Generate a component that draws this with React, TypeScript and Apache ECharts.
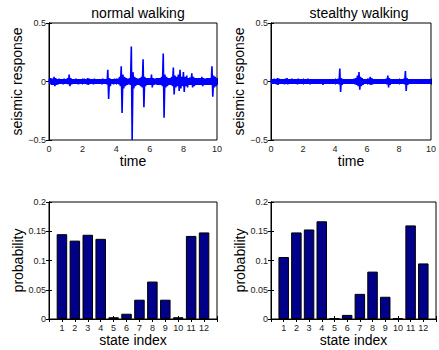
import React, { useEffect, useRef } from "react";
import * as echarts from "echarts";

// envelope of the seismic traces, sampled every 0.1 s (t = 0 .. 10)
const normalUpper = [
  0.02, 0.03, 0.025, 0.04, 0.03, 0.02, 0.025, 0.02, 0.02, 0.025,
  0.02, 0.03, 0.06, 0.03, 0.02, 0.02, 0.025, 0.02, 0.02, 0.02,
  0.02, 0.025, 0.02, 0.03, 0.025, 0.02, 0.02, 0.025, 0.02, 0.02,
  0.02, 0.02, 0.025, 0.02, 0.02, 0.1, 0.03, 0.02, 0.02, 0.025,
  0.02, 0.025, 0.04, 0.13, 0.06, 0.04, 0.03, 0.025, 0.03, 0.3,
  0.08, 0.04, 0.03, 0.025, 0.03, 0.04, 0.19, 0.04, 0.03, 0.03,
  0.03, 0.06, 0.03, 0.025, 0.03, 0.03, 0.03, 0.04, 0.24, 0.06,
  0.04, 0.03, 0.03, 0.04, 0.12, 0.05, 0.04, 0.06, 0.1, 0.04,
  0.08, 0.04, 0.05, 0.03, 0.035, 0.07, 0.04, 0.03, 0.03, 0.03,
  0.03, 0.04, 0.03, 0.025, 0.03, 0.03, 0.03, 0.13, 0.05, 0.04,
  0.03,
];
const normalLower = [
  -0.02, -0.03, -0.03, -0.04, -0.03, -0.025, -0.02, -0.02, -0.025, -0.02,
  -0.02, -0.025, -0.04, -0.025, -0.02, -0.02, -0.02, -0.025, -0.02, -0.02,
  -0.02, -0.02, -0.025, -0.03, -0.02, -0.02, -0.025, -0.02, -0.02, -0.02,
  -0.02, -0.025, -0.02, -0.02, -0.025, -0.15, -0.04, -0.02, -0.025, -0.02,
  -0.02, -0.025, -0.04, -0.27, -0.06, -0.04, -0.03, -0.025, -0.03, -0.5,
  -0.06, -0.04, -0.03, -0.03, -0.04, -0.05, -0.22, -0.04, -0.03, -0.03,
  -0.03, -0.05, -0.03, -0.025, -0.03, -0.03, -0.03, -0.04, -0.31, -0.05,
  -0.04, -0.03, -0.03, -0.04, -0.11, -0.05, -0.04, -0.08, -0.06, -0.04,
  -0.09, -0.04, -0.05, -0.03, -0.03, -0.05, -0.04, -0.03, -0.03, -0.03,
  -0.03, -0.04, -0.03, -0.03, -0.03, -0.03, -0.03, -0.13, -0.05, -0.04,
  -0.03,
];
const stealthyUpper = [
  0.02, 0.02, 0.025, 0.02, 0.03, 0.025, 0.02, 0.02, 0.02, 0.025,
  0.03, 0.02, 0.02, 0.025, 0.02, 0.02, 0.02, 0.025, 0.02, 0.02,
  0.02, 0.02, 0.02, 0.025, 0.02, 0.02, 0.02, 0.02, 0.02, 0.02,
  0.02, 0.02, 0.02, 0.02, 0.02, 0.02, 0.02, 0.02, 0.02, 0.02,
  0.02, 0.02, 0.025, 0.11, 0.03, 0.02, 0.02, 0.02, 0.02, 0.02,
  0.02, 0.02, 0.025, 0.03, 0.05, 0.08, 0.04, 0.03, 0.02, 0.02,
  0.02, 0.025, 0.04, 0.03, 0.02, 0.02, 0.02, 0.02, 0.02, 0.02,
  0.02, 0.02, 0.025, 0.05, 0.03, 0.02, 0.02, 0.02, 0.02, 0.02,
  0.02, 0.02, 0.02, 0.025, 0.09, 0.03, 0.02, 0.02, 0.02, 0.02,
  0.02, 0.02, 0.02, 0.02, 0.02, 0.02, 0.02, 0.02, 0.02, 0.02,
  0.02,
];
const stealthyLower = [
  -0.02, -0.02, -0.02, -0.025, -0.03, -0.02, -0.02, -0.02, -0.025, -0.02,
  -0.025, -0.02, -0.02, -0.02, -0.02, -0.02, -0.025, -0.02, -0.02, -0.02,
  -0.02, -0.02, -0.02, -0.02, -0.025, -0.02, -0.02, -0.02, -0.02, -0.02,
  -0.02, -0.02, -0.03, -0.02, -0.02, -0.02, -0.02, -0.02, -0.02, -0.02,
  -0.02, -0.02, -0.025, -0.09, -0.03, -0.02, -0.02, -0.02, -0.02, -0.02,
  -0.02, -0.02, -0.025, -0.03, -0.04, -0.07, -0.04, -0.03, -0.02, -0.02,
  -0.02, -0.025, -0.03, -0.025, -0.02, -0.02, -0.02, -0.02, -0.02, -0.02,
  -0.02, -0.02, -0.025, -0.05, -0.03, -0.02, -0.02, -0.02, -0.02, -0.02,
  -0.02, -0.02, -0.02, -0.025, -0.08, -0.03, -0.02, -0.02, -0.02, -0.02,
  -0.02, -0.02, -0.02, -0.02, -0.02, -0.02, -0.02, -0.02, -0.02, -0.02,
  -0.02,
];

const stateIndex = [1, 2, 3, 4, 5, 6, 7, 8, 9, 10, 11, 12];
const normalProb = [0.145, 0.134, 0.144, 0.137, 0.003, 0.009, 0.033, 0.064, 0.033, 0.003, 0.142, 0.148];
const stealthyProb = [0.106, 0.148, 0.153, 0.167, 0.001, 0.007, 0.043, 0.081, 0.038, 0.001, 0.16, 0.095];

const titles = ["normal walking", "stealthy walking"];
const FONT = "Liberation Sans, Arial, sans-serif";

function zigzag(up: number[], lo: number[]) {
  const pts: number[][] = [];
  for (let i = 0; i < up.length; i++) {
    const t = i * 0.1;
    pts.push([t, up[i]]);
    if (t + 0.05 <= 10) pts.push([t + 0.05, lo[i]]);
  }
  return pts;
}

const fmt = (v: number) => (v < 0 ? "\u2212" + String(-v) : String(v));

export default function App() {
  const ref = useRef<HTMLDivElement>(null);
  useEffect(() => {
    const chart = echarts.init(ref.current!, null, { renderer: "svg" });
    const grids = [
      { left: 49, top: 23, width: 168, height: 117 },
      { left: 271, top: 23, width: 167, height: 117 },
      { left: 49, top: 202, width: 168, height: 117 },
      { left: 271, top: 202, width: 167, height: 117 },
    ].map((g) => ({ ...g, show: true, borderColor: "#000", borderWidth: 1, backgroundColor: "#fff" }));

    const label = { fontSize: 9, color: "#222", fontFamily: FONT };
    const nameStyle = { fontSize: 14, color: "#000", fontFamily: FONT };
    const tick = { show: true, inside: true, length: 3, lineStyle: { color: "#000" } };
    const line = { show: true, lineStyle: { color: "#000", width: 1 } };

    const xAxis: any[] = [];
    const yAxis: any[] = [];
    for (let g = 0; g < 4; g++) {
      const isSignal = g < 2;
      const xBase = isSignal
        ? { type: "value", min: 0, max: 10, interval: 2 }
        : { type: "value", min: 0, max: 13, interval: 1 };
      const yBase = isSignal
        ? { type: "value", min: -0.5, max: 0.5, interval: 0.5 }
        : { type: "value", min: 0, max: 0.2, interval: 0.05 };
      xAxis.push({
        ...xBase,
        gridIndex: g,
        position: "bottom",
        axisLine: line,
        axisTick: tick,
        splitLine: { show: false },
        axisLabel: {
          ...label,
          margin: 4,
          showMinLabel: true,
          showMaxLabel: true,
          formatter: isSignal
            ? (v: number) => fmt(v)
            : (v: number) => (v >= 1 && v <= 12 ? String(v) : ""),
        },
        name: isSignal ? "time" : "state index",
        nameLocation: "middle",
        nameGap: isSignal ? 13 : 12,
        nameTextStyle: nameStyle,
      });
      xAxis.push({
        ...xBase,
        gridIndex: g,
        position: "top",
        axisLine: line,
        axisTick: tick,
        axisLabel: { show: false },
        splitLine: { show: false },
      });
      yAxis.push({
        ...yBase,
        gridIndex: g,
        position: "left",
        axisLine: line,
        axisTick: tick,
        splitLine: { show: false },
        axisLabel: { ...label, margin: 3, formatter: (v: number) => fmt(v) },
        name: isSignal ? "seismic response" : "probability",
        nameLocation: "middle",
        nameGap: isSignal ? 20 : 24,
        nameTextStyle: nameStyle,
      });
      yAxis.push({
        ...yBase,
        gridIndex: g,
        position: "right",
        axisLine: line,
        axisTick: tick,
        axisLabel: { show: false },
        splitLine: { show: false },
      });
    }

    const signalSeries = [
      zigzag(normalUpper, normalLower),
      zigzag(stealthyUpper, stealthyLower),
    ].map((d, i) => ({
      type: "line",
      xAxisIndex: i * 2,
      yAxisIndex: i * 2,
      data: d,
      showSymbol: false,
      symbol: "none",
      clip: true,
      lineStyle: { color: "#0000ff", width: 1.6 },
      z: 3,
    }));

    const barSeries = [normalProb, stealthyProb].map((vals, i) => ({
      type: "bar",
      xAxisIndex: (i + 2) * 2,
      yAxisIndex: (i + 2) * 2,
      data: stateIndex.map((s, k) => [s, vals[k]]),
      barWidth: 10.5,
      itemStyle: { color: "#000088", borderColor: "#000", borderWidth: 1 },
      z: 3,
    }));

    chart.setOption({
      animation: false,
      textStyle: { fontFamily: FONT },
      title: titles.map((t, i) => ({
        text: t,
        left: i === 0 ? 133 : 354,
        top: 1,
        textAlign: "center",
        textStyle: { fontSize: 14, fontWeight: "normal", color: "#000", fontFamily: FONT },
      })),
      grid: grids,
      xAxis,
      yAxis,
      series: [...signalSeries, ...barSeries],
    });
    return () => chart.dispose();
  }, []);
  return (
    <div
      ref={ref}
      style={{ position: "fixed", left: 0, top: 0, width: 439, height: 350, background: "#fff" }}
    />
  );
}
